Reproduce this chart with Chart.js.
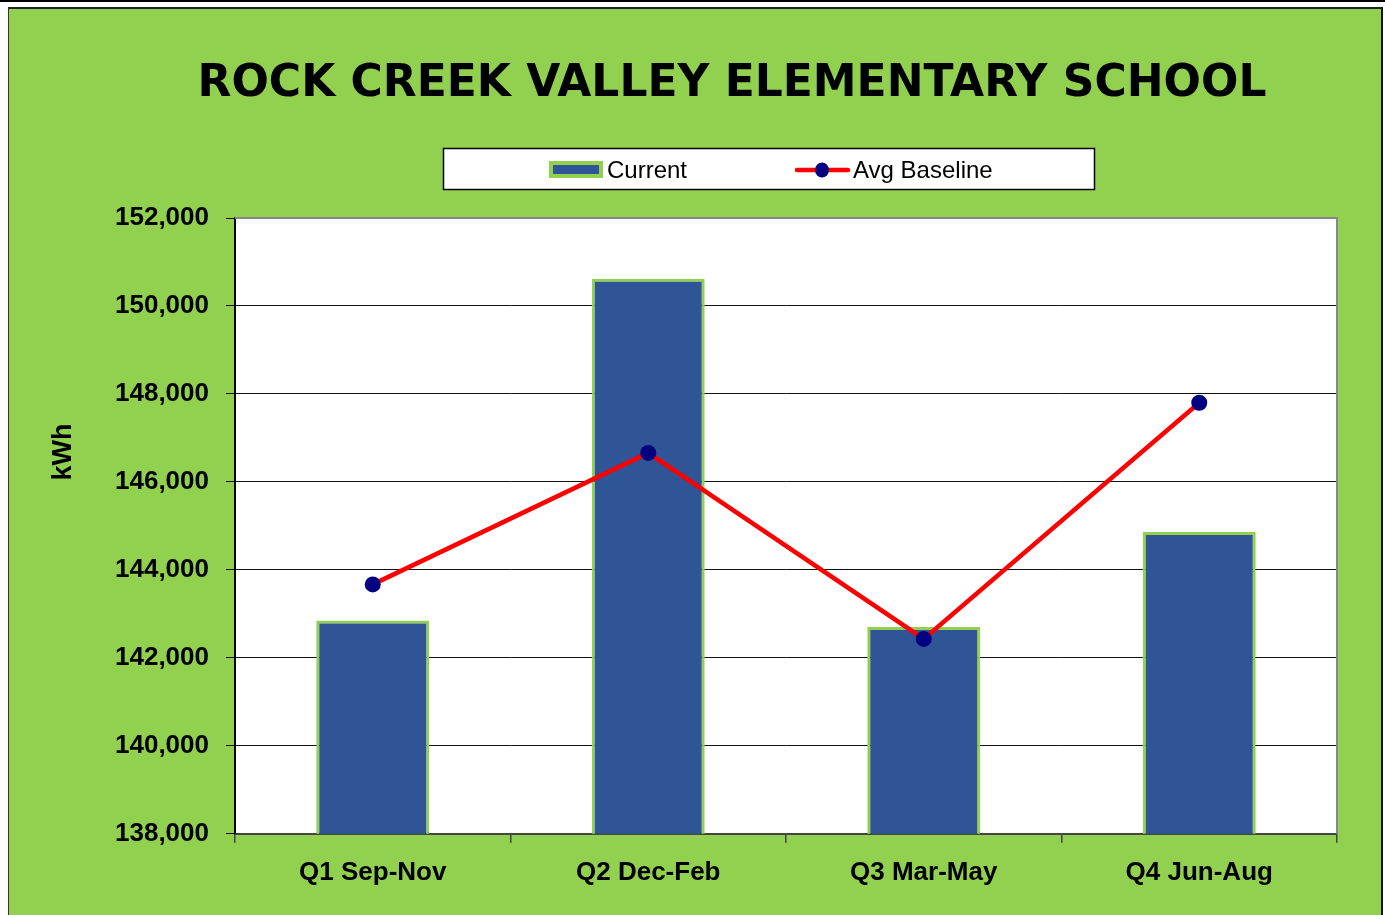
<!DOCTYPE html>
<html>
<head>
<meta charset="utf-8">
<script src="https://cdn.jsdelivr.net/npm/chart.js@4/dist/chart.umd.min.js"></script>
<style>
  html, body { margin: 0; padding: 0; background: #fff; }
  body { width: 1385px; height: 915px; position: relative; overflow: hidden; }
  #topline { position: absolute; left: 0; top: 0; width: 1385px; height: 2px; background: #000; }
  #frame { position: absolute; left: 8px; top: 7px; width: 1372px; height: 920px;
           background: #92D050; border-left: 1px solid #333; border-top: 2px solid #222; border-right: 2px solid #111; }
  #wrap { position: absolute; left: 0; top: 0; width: 1385px; height: 915px; }
</style>
</head>
<body>
<div id="topline"></div>
<div id="frame"></div>
<div id="wrap"><canvas id="chart" width="1385" height="915"></canvas></div>
<script>
// Chart data
const chartTitle = 'ROCK CREEK VALLEY ELEMENTARY SCHOOL';
const yAxisTitle = 'kWh';
const categories = ['Q1 Sep-Nov', 'Q2 Dec-Feb', 'Q3 Mar-May', 'Q4 Jun-Aug'];
const currentKwh = [142850, 150620, 142700, 144860];
const baselineKwh = [143670, 146660, 142430, 147800];
const yMin = 138000;
const yMax = 152000;
const yStep = 2000;

const boldFont = "'Liberation Sans', Arial, sans-serif";
const regularFont = "'Liberation Sans', Arial, sans-serif";

// Draws the white plot area, the titles, the boxed legend and the gray plot border
const framePlugin = {
    id: 'frame',
    beforeDraw(chart) {
        const { ctx, chartArea: a } = chart;
        ctx.save();
        ctx.fillStyle = '#fff';
        ctx.fillRect(a.left, a.top, a.right - a.left, a.bottom - a.top);
        ctx.restore();
    },
    afterDatasetsDraw(chart) {
        const { ctx, chartArea: a } = chart;
        ctx.save();
        ctx.strokeStyle = '#888';
        ctx.lineWidth = 2;
        ctx.beginPath();
        ctx.moveTo(a.left, a.top);
        ctx.lineTo(a.right, a.top);
        ctx.lineTo(a.right, a.bottom);
        ctx.stroke();
        ctx.restore();
    },
    afterDraw(chart) {
        const ctx = chart.ctx;
        ctx.save();

        // title
        ctx.fillStyle = '#000';
        ctx.textAlign = 'center';
        ctx.textBaseline = 'middle';
        ctx.font = "bold 44px 'DejaVu Sans', sans-serif";
        const w = ctx.measureText(chartTitle).width;
        const size = 44 * 1068 / w;
        ctx.font = 'bold ' + size.toFixed(1) + "px 'DejaVu Sans', sans-serif";
        ctx.fillText(chartTitle, 732, 85);

        // y axis title
        ctx.save();
        ctx.translate(64, 452);
        ctx.rotate(-Math.PI / 2);
        ctx.font = 'bold 27px ' + boldFont;
        ctx.fillText(yAxisTitle, 0, 0);
        ctx.restore();

        // legend box
        ctx.fillStyle = '#fff';
        ctx.fillRect(443, 148, 652, 42);
        ctx.strokeStyle = '#000';
        ctx.lineWidth = 1.5;
        ctx.strokeRect(443.5, 148.5, 651, 41);

        const bar = chart.data.datasets[1];
        const line = chart.data.datasets[0];
        const cy = 170;

        // bar swatch
        ctx.fillStyle = bar.borderColor;
        ctx.fillRect(549, 161, 54, 17);
        ctx.fillStyle = bar.backgroundColor;
        ctx.fillRect(553, 165, 46, 9);

        // line swatch
        ctx.strokeStyle = line.borderColor;
        ctx.lineWidth = 4.5;
        ctx.lineCap = 'round';
        ctx.beginPath();
        ctx.moveTo(797, cy);
        ctx.lineTo(848, cy);
        ctx.stroke();
        ctx.fillStyle = line.pointBackgroundColor;
        ctx.beginPath();
        ctx.ellipse(822, cy, 7, 7.5, 0, 0, Math.PI * 2);
        ctx.fill();

        ctx.fillStyle = '#000';
        ctx.textAlign = 'left';
        ctx.font = '24px ' + regularFont;
        ctx.fillText(bar.label, 607, cy + 1);
        ctx.fillText(line.label, 853, cy + 1);
        ctx.restore();
    }
};

const chartData = {
    labels: categories,
    datasets: [
        {
            type: 'line',
            label: 'Avg Baseline',
            data: baselineKwh,
            borderColor: '#FF0000',
            borderWidth: 4.5,
            pointRadius: 8,
            pointHoverRadius: 8,
            pointBackgroundColor: '#000080',
            pointBorderWidth: 0,
            tension: 0,
            order: 0
        },
        {
            type: 'bar',
            label: 'Current',
            data: currentKwh,
            backgroundColor: '#2F5597',
            borderColor: '#92D050',
            borderWidth: 3,
            borderSkipped: false,
            categoryPercentage: 1,
            barPercentage: 0.41,
            order: 1
        }
    ]
};

const chartConfig = {
    data: chartData,
    plugins: [framePlugin],
    options: {
        responsive: false,
        animation: false,
        layout: {
            padding: { left: 98, right: 48, top: 218, bottom: 13 }
        },
        plugins: {
            legend: { display: false },
            title: { display: false },
            tooltip: { enabled: false }
        },
        scales: {
            x: {
                offset: true,
                grid: {
                    offset: true,
                    drawOnChartArea: false,
                    drawTicks: true,
                    tickLength: 9,
                    color: '#444',
                    lineWidth: 1.5
                },
                border: { color: '#444', width: 2 },
                ticks: {
                    color: '#000',
                    padding: 14,
                    font: { family: boldFont, size: 26, weight: 'bold' }
                }
            },
            y: {
                min: yMin,
                max: yMax,
                grid: {
                    color: '#111',
                    lineWidth: 1,
                    tickLength: 9
                },
                border: { color: '#000', width: 2 },
                ticks: {
                    stepSize: yStep,
                    color: '#000',
                    padding: 17,
                    font: { family: boldFont, size: 26, weight: 'bold' },
                    callback: (v) => v.toLocaleString('en-US')
                }
            }
        }
    }
};

const chart = new Chart(document.getElementById('chart').getContext('2d'), chartConfig);
</script>
</body>
</html>
